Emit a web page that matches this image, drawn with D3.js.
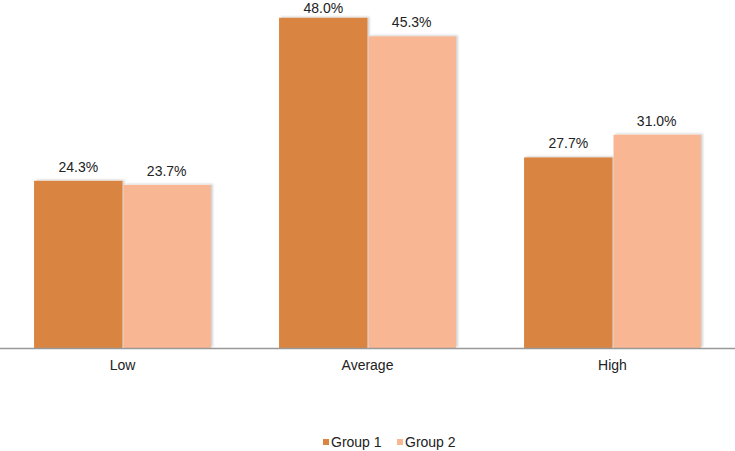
<!DOCTYPE html>
<html>
<head>
<meta charset="utf-8">
<script src="https://cdn.jsdelivr.net/npm/d3@7"></script>
<style>
  body { margin: 0; background: #fff; }
  text { font-family: "Liberation Sans", Arial, sans-serif; fill: #222; }
</style>
</head>
<body>
<div id="chart"></div>
<script>
const categories = ['Low', 'Average', 'High'];
const groups = ['Group 1', 'Group 2'];
const group1 = [24.3, 48.0, 27.7];
const group2 = [23.7, 45.3, 31.0];
const colors = ['#d98440', '#f8b693'];

const width = 735, height = 451;
const baseline = 348;

const rows = categories.map((c, i) => ({ category: c, values: [group1[i], group2[i]] }));

const svg = d3.select('#chart')
  .append('svg')
  .attr('width', width)
  .attr('height', height);

// faint shadow like the original export
const defs = svg.append('defs');
const filter = defs.append('filter')
  .attr('id', 'shadow')
  .attr('x', '-10%').attr('y', '-10%')
  .attr('width', '130%').attr('height', '120%');
filter.append('feGaussianBlur')
  .attr('in', 'SourceAlpha')
  .attr('stdDeviation', 1.2)
  .attr('result', 'blur');
filter.append('feOffset')
  .attr('in', 'blur')
  .attr('dx', 2)
  .attr('dy', -1)
  .attr('result', 'offsetBlur');
filter.append('feComponentTransfer')
  .attr('in', 'offsetBlur')
  .attr('result', 'fade')
  .append('feFuncA')
  .attr('type', 'linear')
  .attr('slope', 0.18);
const feMerge = filter.append('feMerge');
feMerge.append('feMergeNode').attr('in', 'fade');
feMerge.append('feMergeNode').attr('in', 'SourceGraphic');

const x0 = d3.scaleBand()
  .domain(categories)
  .range([0, width])
  .paddingInner(0.278)
  .paddingOuter(0.139);

const x1 = d3.scaleBand()
  .domain(groups)
  .range([0, x0.bandwidth()])
  .padding(0);

const y = d3.scaleLinear()
  .domain([0, 50])
  .range([baseline, 4]);

const color = d3.scaleOrdinal()
  .domain(groups)
  .range(colors);

const catG = svg.selectAll('g.cat')
  .data(rows)
  .enter()
  .append('g')
  .attr('class', 'cat')
  .attr('transform', d => `translate(${x0(d.category)},0)`);

catG.selectAll('rect')
  .data(d => d.values.map((v, i) => ({ group: groups[i], value: v })))
  .enter()
  .append('rect')
  .attr('x', d => x1(d.group) + (d.group === 'Group 2' ? 1 : 0))
  .attr('y', d => y(d.value))
  .attr('width', d => x1.bandwidth() - (d.group === 'Group 2' ? 1 : 0))
  .attr('height', d => baseline - y(d.value))
  .attr('fill', d => color(d.group))
  .style('filter', 'url(#shadow)');

// value labels; keep the tallest one just inside the top edge
catG.selectAll('text.val')
  .data(d => d.values.map((v, i) => ({ group: groups[i], value: v })))
  .enter()
  .append('text')
  .attr('class', 'val')
  .attr('x', d => x1(d.group) + x1.bandwidth() / 2)
  .attr('y', d => Math.max(y(d.value) - 9, 13))
  .attr('text-anchor', 'middle')
  .style('font-size', '14px')
  .text(d => d.value.toFixed(1) + '%');

// x axis line + category labels
svg.append('line')
  .attr('x1', 0).attr('x2', width)
  .attr('y1', baseline + 0.5).attr('y2', baseline + 0.5)
  .attr('stroke', '#999')
  .attr('stroke-width', 1.3);

svg.selectAll('text.cat-label')
  .data(categories)
  .enter()
  .append('text')
  .attr('class', 'cat-label')
  .attr('x', d => x0(d) + x0.bandwidth() / 2)
  .attr('y', 370)
  .attr('text-anchor', 'middle')
  .style('font-size', '14px')
  .text(d => d);

// legend
const legend = svg.append('g')
  .attr('transform', 'translate(323,442)');
const item = legend.selectAll('g')
  .data(groups)
  .enter()
  .append('g')
  .attr('transform', (d, i) => `translate(${i * 74},0)`);
item.append('rect')
  .attr('x', 0).attr('y', -3)
  .attr('width', 6).attr('height', 6)
  .attr('fill', d => color(d));
item.append('text')
  .attr('x', 8)
  .attr('y', 5)
  .style('font-size', '14px')
  .text(d => d);
</script>
</body>
</html>
